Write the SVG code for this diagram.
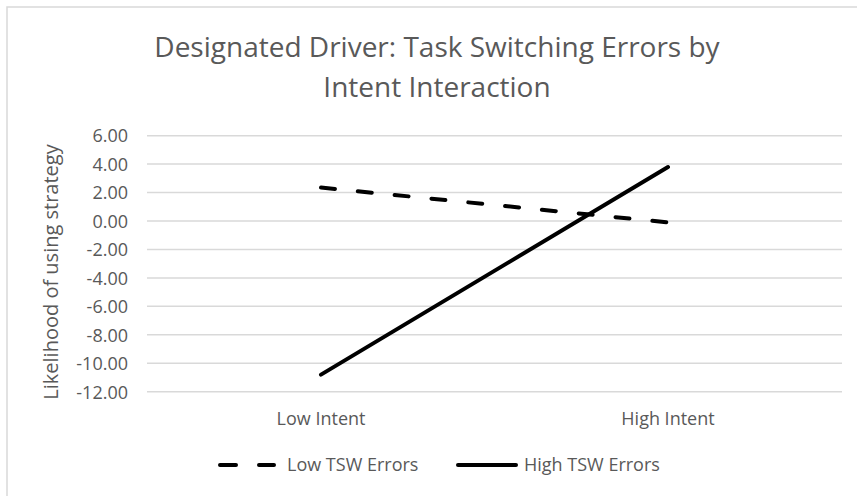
<svg xmlns="http://www.w3.org/2000/svg" width="857" height="496" viewBox="0 0 857 496">
  <style>
    text { font-family: "Open Sans", "Liberation Sans", sans-serif; fill: #595959; }
    .title { font-size: 28px; text-anchor: middle; }
    .tick { font-size: 18px; text-anchor: end; }
    .cat { font-size: 18px; text-anchor: middle; }
    .leg { font-size: 18px; }
    .axis-title { font-size: 20px; text-anchor: middle; }
    .grid line { stroke: #d9d9d9; stroke-width: 1.5; }
    .series { fill: none; stroke: #000; stroke-width: 4; stroke-linecap: round; }
    .dashed { stroke-dasharray: 14 23; }
  </style>

  <!-- chart area background and frame -->
  <rect x="0" y="0" width="857" height="496" fill="#ffffff"/>
  <rect x="7" y="7" width="900" height="600" fill="none" stroke="#d9d9d9" stroke-width="1.5"/>

  <!-- chart title -->
  <g id="title">
    <text class="title" x="437" y="57">Designated Driver: Task Switching Errors by</text>
    <text class="title" x="437" y="97">Intent Interaction</text>
  </g>

  <!-- horizontal gridlines, 6.00 down to -12.00 -->
  <g class="grid">
    <line x1="147" y1="135.7" x2="842" y2="135.7"/>
    <line x1="147" y1="164.1" x2="842" y2="164.1"/>
    <line x1="147" y1="192.6" x2="842" y2="192.6"/>
    <line x1="147" y1="221" x2="842" y2="221"/>
    <line x1="147" y1="249.4" x2="842" y2="249.4"/>
    <line x1="147" y1="277.9" x2="842" y2="277.9"/>
    <line x1="147" y1="306.3" x2="842" y2="306.3"/>
    <line x1="147" y1="334.8" x2="842" y2="334.8"/>
    <line x1="147" y1="363.2" x2="842" y2="363.2"/>
    <line x1="147" y1="391.7" x2="842" y2="391.7"/>
  </g>

  <!-- value axis labels -->
  <g id="value-axis">
    <text class="tick" x="128" y="142">6.00</text>
    <text class="tick" x="128" y="170.5">4.00</text>
    <text class="tick" x="128" y="199">2.00</text>
    <text class="tick" x="128" y="227.5">0.00</text>
    <text class="tick" x="128" y="256">-2.00</text>
    <text class="tick" x="128" y="284.5">-4.00</text>
    <text class="tick" x="128" y="313">-6.00</text>
    <text class="tick" x="128" y="341.5">-8.00</text>
    <text class="tick" x="128" y="370">-10.00</text>
    <text class="tick" x="128" y="398.5">-12.00</text>
    <text class="axis-title" transform="translate(58 272) rotate(-90)">Likelihood of using strategy</text>
  </g>

  <!-- category axis labels -->
  <g id="category-axis">
    <text class="cat" x="321" y="424.5">Low Intent</text>
    <text class="cat" x="668" y="424.5">High Intent</text>
  </g>

  <!-- data series -->
  <g id="connectors">
    <line id="low-tsw" class="series dashed" x1="321" y1="187.6" x2="668" y2="222.4"/>
    <line id="high-tsw" class="series" x1="321" y1="374.6" x2="668" y2="167"/>
  </g>

  <!-- legend -->
  <g id="legend">
    <g id="legend-low">
      <line class="series" x1="220" y1="465" x2="274" y2="465" stroke-dasharray="16 23"/>
      <text class="leg" x="287" y="471">Low TSW Errors</text>
    </g>
    <g id="legend-high">
      <line class="series" x1="458" y1="465" x2="516" y2="465"/>
      <text class="leg" x="524" y="471">High TSW Errors</text>
    </g>
  </g>
</svg>
